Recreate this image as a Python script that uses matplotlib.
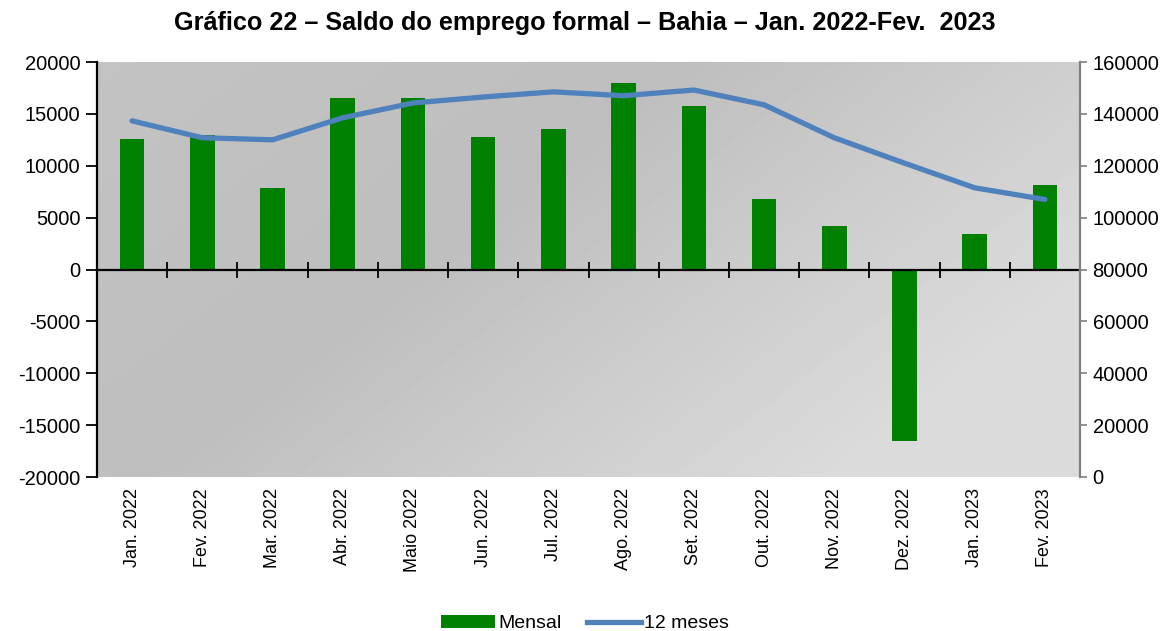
import numpy as np
import matplotlib
matplotlib.use("Agg")
from matplotlib import pyplot as plt
from matplotlib.lines import Line2D
from matplotlib.patches import Patch

plt.rcParams['font.family'] = ['Liberation Sans', 'DejaVu Sans']
plt.rcParams['axes.unicode_minus'] = False

# DADOS
meses = ["Jan. 2022", "Fev. 2022", "Mar. 2022", "Abr. 2022", "Maio 2022", "Jun. 2022",
         "Jul. 2022", "Ago. 2022", "Set. 2022", "Out. 2022", "Nov. 2022", "Dez. 2022",
         "Jan. 2023", "Fev. 2023"]
mensal = [12600, 13000, 7900, 16500, 16500, 12800, 13500, 18000, 15800, 6800, 4200,
          -16500, 3400, 8100]
doze_meses = [137300, 130800, 130000, 138500, 144200, 146500, 148500, 147000, 149200,
              143500, 130800, 121000, 111500, 107000]

verde = "#008000"
azul = "#4F81BD"

fig = plt.figure(figsize=(11.70, 6.31), dpi=100)
ax = fig.add_axes([97/1170, 1 - 477/631, (1080-97)/1170, (477-62)/631])

# fundo em gradiente (cinza)
w, h = 983, 415
xx, yy = np.meshgrid(np.arange(w), np.arange(h)[::-1])
d = (xx - 50) * 0.609 - yy * 0.793
g = np.where(d > 0, 190 + 29*np.clip(d/420, 0, 1), 190 + 5*np.clip(-d/400, 0, 1)) / 255
ax.imshow(g, cmap="gray", vmin=0, vmax=1, extent=[0, 1, 0, 1], transform=ax.transAxes,
          aspect="auto", zorder=0, interpolation="bilinear")

x = np.arange(len(meses))
ax.bar(x, mensal, width=0.35, color=verde, zorder=2)
ax.set_xlim(-0.5, len(meses) - 0.5)
ax.set_ylim(-20000, 20000)
ax.set_yticks(np.arange(-20000, 20001, 5000))
ax.tick_params(axis="y", labelsize=14.5, length=8, width=1.3, colors="black", pad=4)

for s in ["top", "right"]:
    ax.spines[s].set_visible(False)
ax.spines["left"].set_linewidth(1.6)
ax.spines["bottom"].set_position(("data", 0))
ax.spines["bottom"].set_linewidth(1.6)
ax.spines["bottom"].set_zorder(3)
ax.set_xticks(np.arange(-0.5, len(meses), 1))
ax.set_xticklabels([])
ax.tick_params(axis="x", direction="inout", length=11, width=1.3)

sec = ax.secondary_xaxis("bottom")
sec.set_xticks(x)
sec.set_xticklabels(meses, rotation=90, fontsize=13)
sec.tick_params(length=0, pad=8)
sec.spines["bottom"].set_visible(False)

ax2 = ax.twinx()
ax2.plot(x, doze_meses, color=azul, linewidth=3.8, solid_capstyle="round", zorder=4)
ax2.set_ylim(0, 160000)
ax2.set_yticks(np.arange(0, 160001, 20000))
ax2.tick_params(axis="y", labelsize=14.5, length=5, width=1.2, color="#808080", pad=4)
for s in ["top", "left", "bottom"]:
    ax2.spines[s].set_visible(False)
ax2.spines["right"].set_color("#808080")
ax2.spines["right"].set_linewidth(1.6)

fig.suptitle("Gráfico 22 – Saldo do emprego formal – Bahia – Jan. 2022-Fev.  2023",
             fontsize=18.2, fontweight="bold", y=0.982)

handles = [Patch(facecolor=verde, label="Mensal"),
           Line2D([0], [0], color=azul, linewidth=3.8, label="12 meses")]
fig.legend(handles=handles, loc="lower center", bbox_to_anchor=(0.5, -0.03), ncol=2,
           frameon=False, fontsize=14, handlelength=2.8, columnspacing=1.3,
           handletextpad=0.15)

fig.savefig("out.png", dpi=100)
